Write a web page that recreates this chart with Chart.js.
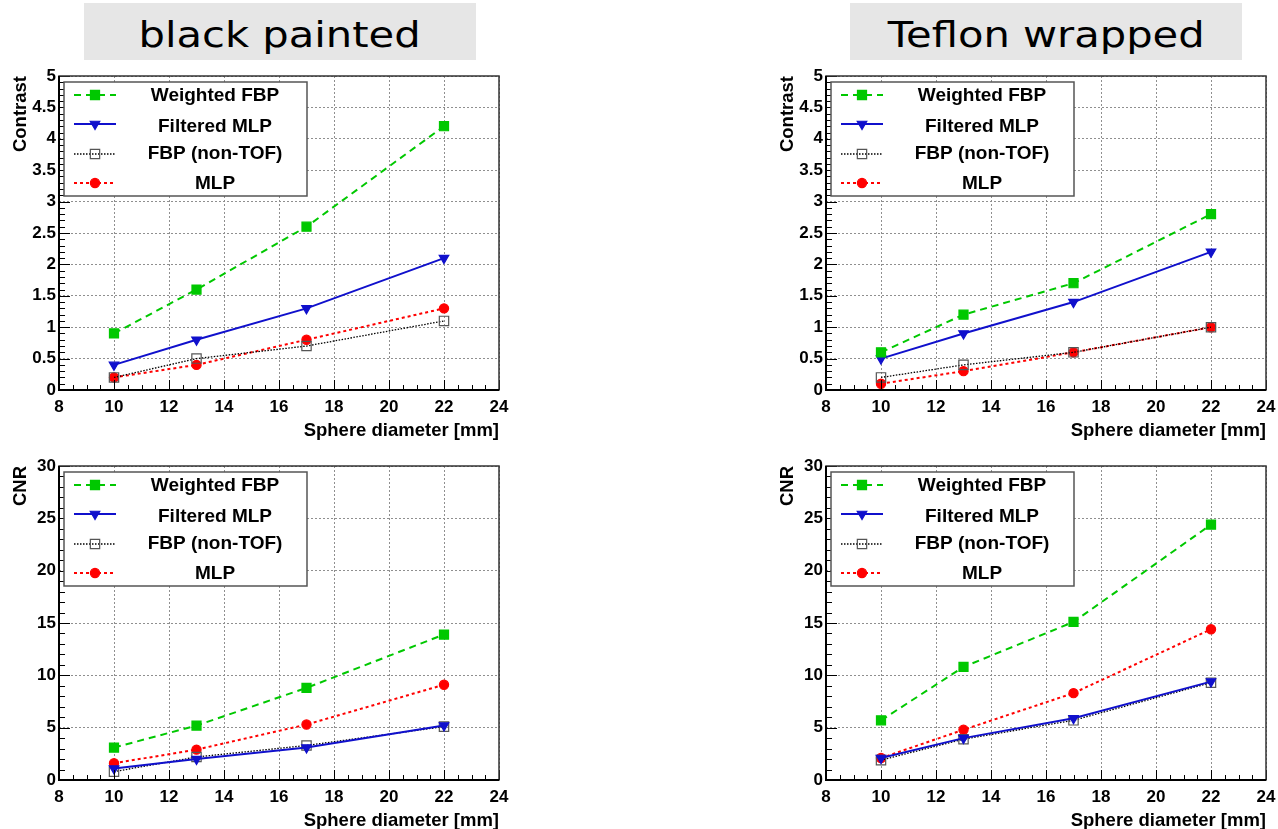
<!DOCTYPE html>
<html>
<head>
<meta charset="utf-8">
<script src="https://cdn.jsdelivr.net/npm/chart.js@4.4.1/dist/chart.umd.min.js"></script>
<style>
  body { margin: 0; background: #fff; width: 1278px; height: 829px; position: relative; overflow: hidden; }
  .title { position: absolute; top: 3px; height: 57px; width: 392px; background: #e6e6e6;
           text-align: center; font-family: 'DejaVu Sans', sans-serif; font-size: 35px; line-height: 64px;
           overflow: visible; white-space: nowrap; }
  .title span { display: inline-block; transform: scaleX(1.19); }
  .panel { position: absolute; width: 510px; height: 380px; }
</style>
</head>
<body>
<div class="title" style="left:84px"><span>black painted</span></div>
<div class="title" style="left:850px"><span>Teflon wrapped</span></div>

<div class="panel" style="left:0px;top:66px"><canvas id="bpContrast" width="510" height="380"></canvas></div>
<div class="panel" style="left:767px;top:66px"><canvas id="twContrast" width="510" height="380"></canvas></div>
<div class="panel" style="left:0px;top:456px"><canvas id="bpCnr" width="510" height="380"></canvas></div>
<div class="panel" style="left:767px;top:456px"><canvas id="twCnr" width="510" height="380"></canvas></div>

<script>
// sphere diameters [mm]
const sizes = [10, 13, 17, 22];
const methodNames = ['Weighted FBP', 'Filtered MLP', 'FBP (non-TOF)', 'MLP'];

// contrast, black painted crystals
const bpContrastWFBP = [0.9, 1.6, 2.6, 4.2];
const bpContrastFMLP = [0.4, 0.8, 1.3, 2.1];
const bpContrastFBP  = [0.2, 0.5, 0.7, 1.1];
const bpContrastMLP  = [0.2, 0.4, 0.8, 1.3];

// contrast, Teflon wrapped crystals
const twContrastWFBP = [0.6, 1.2, 1.7, 2.8];
const twContrastFMLP = [0.5, 0.9, 1.4, 2.2];
const twContrastFBP  = [0.2, 0.4, 0.6, 1.0];
const twContrastMLP  = [0.1, 0.3, 0.6, 1.0];

// CNR, black painted
const bpCnrWFBP = [3.1, 5.2, 8.8, 13.9];
const bpCnrFMLP = [1.1, 2.0, 3.1, 5.2];
const bpCnrFBP  = [0.8, 2.2, 3.3, 5.1];
const bpCnrMLP  = [1.6, 2.9, 5.3, 9.1];

// CNR, Teflon wrapped
const twCnrWFBP = [5.7, 10.8, 15.1, 24.4];
const twCnrFMLP = [2.1, 4.0, 5.9, 9.4];
const twCnrFBP  = [1.9, 3.9, 5.7, 9.3];
const twCnrMLP  = [2.1, 4.8, 8.3, 14.4];

// axis tick labels
const xTickValues = [8, 10, 12, 14, 16, 18, 20, 22, 24];
const contrastTickValues = [0, 0.5, 1, 1.5, 2, 2.5, 3, 3.5, 4, 4.5, 5];
const cnrTickValues = [0, 5, 10, 15, 20, 25, 30];

const FONT = "'Liberation Sans', Arial, Helvetica, sans-serif";

const seriesStyles = [
  { line: '#00c800', dash: [7, 5], width: 2, point: 'rect', radius: 6.4, fill: '#00c800', edge: '#00c800', rot: 0 },
  { line: '#1010cc', dash: [], width: 2, point: 'triangle', radius: 5.5, fill: '#1010cc', edge: '#1010cc', rot: 180 },
  { line: '#000000', dash: [1.5, 1.5], width: 1.3, point: 'rect', radius: 6.6, fill: 'rgba(0,0,0,0)', edge: '#555555', rot: 0 },
  { line: '#ff0000', dash: [3, 3], width: 2, point: 'circle', radius: 4.6, fill: '#ff0000', edge: '#ff0000', rot: 0 }
];

// ROOT-like frame with inward major/minor ticks, and the boxed legend
const rootFrame = {
  id: 'rootFrame',
  afterDatasetsDraw(chart, args, opts) {
    const { ctx, chartArea: a, scales } = chart;
    ctx.save();
    ctx.strokeStyle = '#000';
    ctx.lineWidth = 1;
    ctx.setLineDash([]);
    const xs = scales.x, ys = scales.y;
    const n = Math.round((xs.max - xs.min) / opts.xMinor);
    for (let k = 0; k <= n; k++) {
      const v = xs.min + k * opts.xMinor;
      const major = Math.abs(v / opts.xMajor - Math.round(v / opts.xMajor)) < 1e-6;
      const px = Math.round(xs.getPixelForValue(v)) + 0.5;
      ctx.beginPath();
      ctx.moveTo(px, a.bottom);
      ctx.lineTo(px, a.bottom - (major ? 10 : 5));
      ctx.stroke();
    }
    const m = Math.round((ys.max - ys.min) / opts.yMinor);
    for (let k = 0; k <= m; k++) {
      const v = ys.min + k * opts.yMinor;
      const major = Math.abs(v / opts.yMajor - Math.round(v / opts.yMajor)) < 1e-6;
      const py = Math.round(ys.getPixelForValue(v)) + 0.5;
      ctx.beginPath();
      ctx.moveTo(a.left, py);
      ctx.lineTo(a.left + (major ? 11 : 6), py);
      ctx.stroke();
    }
    ctx.strokeStyle = '#333';
    ctx.lineWidth = 1.5;
    ctx.strokeRect(a.left, a.top, a.right - a.left, a.bottom - a.top);
    ctx.strokeStyle = '#000';
    ctx.lineWidth = 2;
    ctx.beginPath();
    ctx.moveTo(a.left, a.top);
    ctx.lineTo(a.left, a.bottom);
    ctx.lineTo(a.right, a.bottom);
    ctx.stroke();

    // legend box
    const x0 = a.left + 5, y0 = a.top + 6, w = 243, h = 114;
    const markRows = [13, 42, 72, 101];
    const textRows = [14, 45, 72, 102];
    ctx.fillStyle = '#fff';
    ctx.fillRect(x0, y0, w, h);
    ctx.strokeStyle = '#555';
    ctx.lineWidth = 1.5;
    ctx.strokeRect(x0, y0, w, h);
    chart.data.datasets.forEach((ds, i) => {
      const y = y0 + markRows[i];
      ctx.save();
      ctx.strokeStyle = ds.borderColor;
      ctx.lineWidth = ds.borderWidth;
      ctx.setLineDash(ds.borderDash);
      ctx.beginPath();
      ctx.moveTo(x0 + 10, y);
      ctx.lineTo(x0 + 52, y);
      ctx.stroke();
      ctx.restore();
      ctx.save();
      ctx.setLineDash([]);
      ctx.fillStyle = ds.pointBackgroundColor;
      ctx.strokeStyle = ds.pointBorderColor;
      ctx.lineWidth = ds.pointBorderWidth;
      Chart.helpers.drawPoint(ctx, { pointStyle: ds.pointStyle, rotation: ds.pointRotation, radius: ds.pointRadius, borderWidth: ds.pointBorderWidth }, x0 + 31, y);
      ctx.restore();
      ctx.fillStyle = '#000';
      ctx.font = 'bold 19px ' + FONT;
      ctx.textAlign = 'center';
      ctx.textBaseline = 'middle';
      ctx.fillText(ds.label, x0 + 151, y0 + textRows[i]);
    });
    ctx.restore();
  }
};

function makePanel(id, yTitle, yTicks, yMax, yMinor, yMajor, series) {
  const datasets = series.map((vals, i) => {
    const s = seriesStyles[i];
    return {
      label: methodNames[i],
      data: sizes.map((d, j) => ({ x: d, y: vals[j] })),
      showLine: true,
      borderColor: s.line,
      borderWidth: s.width,
      borderDash: s.dash,
      pointStyle: s.point,
      pointRotation: s.rot,
      pointRadius: s.radius,
      pointHoverRadius: s.radius,
      pointBackgroundColor: s.fill,
      pointBorderColor: s.edge,
      pointBorderWidth: 1.2,
      tension: 0
    };
  });
  new Chart(document.getElementById(id), {
    type: 'scatter',
    data: { datasets },
    plugins: [rootFrame],
    options: {
      responsive: false,
      animation: false,
      devicePixelRatio: 1,
      layout: { padding: { left: 0, top: 10, right: 11, bottom: 0 } },
      plugins: {
        legend: { display: false },
        tooltip: { enabled: false },
        rootFrame: { xMinor: 0.5, xMajor: 2, yMinor: yMinor, yMajor: yMajor }
      },
      scales: {
        x: {
          type: 'linear', min: 8, max: 24,
          afterBuildTicks: s => { s.ticks = xTickValues.map(v => ({ value: v })); },
          afterFit: s => { s.height = 56; s.paddingLeft = 0; s.paddingRight = 0; },
          grid: { color: '#8f8f8f', lineWidth: 1, drawTicks: false },
          border: { display: false, dash: [2, 2] },
          ticks: { color: '#000', padding: 7, maxRotation: 0, autoSkip: false,
                   font: { family: FONT, size: 17, weight: 'bold' }, callback: v => String(v) },
          title: { display: true, text: 'Sphere diameter [mm]', align: 'end', color: '#000',
                   font: { family: FONT, size: 18.5, weight: 'bold' }, padding: { top: 0, bottom: 4 } }
        },
        y: {
          type: 'linear', min: 0, max: yMax,
          afterBuildTicks: s => { s.ticks = yTicks.map(v => ({ value: v })); },
          afterFit: s => { s.width = 59; s.paddingTop = 0; s.paddingBottom = 0; },
          grid: { color: '#8f8f8f', lineWidth: 1, drawTicks: false },
          border: { display: false, dash: [2, 2] },
          ticks: { color: '#000', padding: 3, autoSkip: false,
                   font: { family: FONT, size: 17, weight: 'bold' }, callback: v => String(v) },
          title: { display: true, text: yTitle, align: 'end', color: '#000',
                   font: { family: FONT, size: 18.5, weight: 'bold' }, padding: { top: 10, bottom: 0 } }
        }
      }
    }
  });
}

makePanel('bpContrast', 'Contrast', contrastTickValues, 5, 0.1, 0.5,
  [bpContrastWFBP, bpContrastFMLP, bpContrastFBP, bpContrastMLP]);
makePanel('twContrast', 'Contrast', contrastTickValues, 5, 0.1, 0.5,
  [twContrastWFBP, twContrastFMLP, twContrastFBP, twContrastMLP]);
makePanel('bpCnr', 'CNR', cnrTickValues, 30, 1, 5,
  [bpCnrWFBP, bpCnrFMLP, bpCnrFBP, bpCnrMLP]);
makePanel('twCnr', 'CNR', cnrTickValues, 30, 1, 5,
  [twCnrWFBP, twCnrFMLP, twCnrFBP, twCnrMLP]);
</script>
</body>
</html>
